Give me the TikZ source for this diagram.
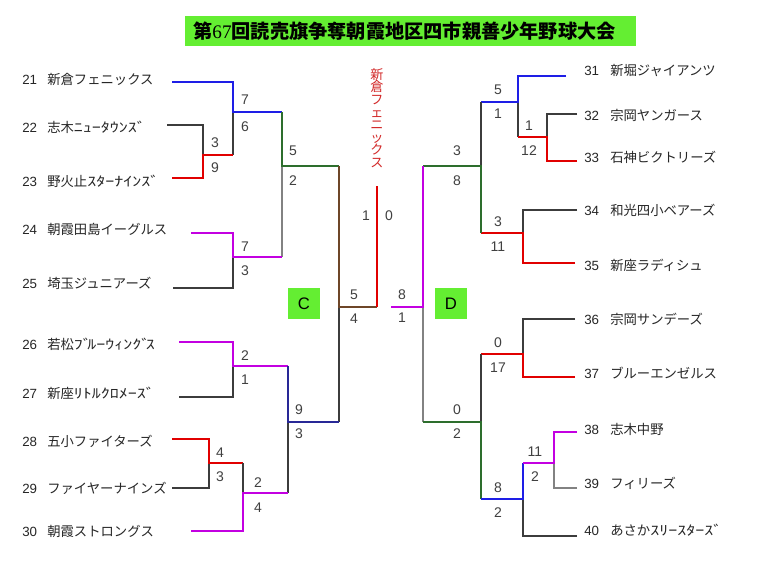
\documentclass[tikz,border=0pt]{standalone}
\usepackage{fontspec}
\usepackage{graphicx}
\setmainfont{Liberation Sans}
\newfontfamily\jp{Noto Sans CJK JP}
\newfontfamily\serifdig{Liberation Serif}
\newcommand{\hw}[1]{\scalebox{1.35}[1]{#1}}
\definecolor{cblueC}{RGB}{30,30,230}
\definecolor{cgreenC}{RGB}{45,110,45}
\definecolor{cmagC}{RGB}{195,0,225}
\definecolor{credC}{RGB}{225,0,0}
\definecolor{cbrownC}{RGB}{110,70,40}
\definecolor{cnavyC}{RGB}{40,40,150}
\definecolor{cblkC}{RGB}{60,60,60}
\definecolor{cgrayC}{RGB}{130,130,130}
\definecolor{titlegreen}{RGB}{100,238,50}
\definecolor{wintext}{RGB}{210,40,40}
\begin{document}
\begin{tikzpicture}[x=0.75pt,y=-0.75pt,
  cblue/.style={draw=cblueC,line width=1.1pt},
  cgreen/.style={draw=cgreenC,line width=1.1pt},
  cmag/.style={draw=cmagC,line width=1.1pt},
  cred/.style={draw=credC,line width=1.1pt},
  cbrown/.style={draw=cbrownC,line width=1.1pt},
  cnavy/.style={draw=cnavyC,line width=1.1pt},
  cblk/.style={draw=cblkC,line width=0.8pt},
  cgray/.style={draw=cgrayC,line width=0.8pt},
  team/.style={anchor=west,inner sep=0pt,font=\fontsize{10pt}{12pt}\selectfont,text=black!85},
  score/.style={inner sep=0pt,font=\fontsize{10.5pt}{12pt}\selectfont,text=black!75},
  gbox/.style={fill=titlegreen,inner sep=0pt,font=\fontsize{12.5pt}{14pt}\selectfont}
]
\useasboundingbox (0,0) rectangle (768,576);
\fill[white] (0,0) rectangle (768,576);

% title
\node[fill=titlegreen,anchor=west,minimum height=30*0.75pt,inner ysep=0pt,inner xsep=8*0.75pt,
  text width=435*0.75pt,align=left,
  font=\fontsize{14.4pt}{16pt}\selectfont\bfseries] (title) at (185,31)
  {\jp 第{\serifdig\mdseries 67}回読売旗争奪朝霞地区四市親善少年野球大会};

% block boxes
\node[gbox,minimum width=32*0.75pt,minimum height=31*0.75pt] (boxC) at (304,303.5) {C};
\node[gbox,minimum width=32*0.75pt,minimum height=31*0.75pt] (boxD) at (451,303.5) {D};

% winner vertical text
\node[inner sep=0pt,text=wintext,align=center,font=\fontsize{9.8pt}{9.4pt}\selectfont\jp] (winner) at (377,118)
  {新\\倉\\フ\\ェ\\ニ\\ッ\\ク\\ス};

% left teams
\newcommand{\tnum}[1]{\makebox[18.75pt][l]{#1}}
\node[team] (t21) at (22,79) {\tnum{21}{\jp 新倉フェニックス}};
\node[team] (t22) at (22,127) {\tnum{22}{\jp 志木\hw{ﾆｭｰﾀｳﾝｽﾞ}}};
\node[team] (t23) at (22,181) {\tnum{23}{\jp 野火止\hw{ｽﾀｰﾅｲﾝｽﾞ}}};
\node[team] (t24) at (22,229) {\tnum{24}{\jp 朝霞田島イーグルス}};
\node[team] (t25) at (22,283) {\tnum{25}{\jp 埼玉ジュニアーズ}};
\node[team] (t26) at (22,344) {\tnum{26}{\jp 若松\hw{ﾌﾞ\kern-2.5pt ﾙｰｳｨﾝｸﾞ\kern-2.5pt ｽ}}};
\node[team] (t27) at (22,393) {\tnum{27}{\jp 新座\hw{ﾘﾄﾙｸﾛﾒｰｽﾞ}}};
\node[team] (t28) at (22,441) {\tnum{28}{\jp 五小ファイターズ}};
\node[team] (t29) at (22,488) {\tnum{29}{\jp ファイヤーナインズ}};
\node[team] (t30) at (22,531) {\tnum{30}{\jp 朝霞ストロングス}};

% right teams
\newcommand{\rnum}[1]{\makebox[19.5pt][l]{#1}}
\node[team] (t31) at (584,71) {\rnum{31}{\jp 新堀ジャイアンツ}};
\node[team] (t32) at (584,115) {\rnum{32}{\jp 宗岡ヤンガース}};
\node[team] (t33) at (584,157) {\rnum{33}{\jp 石神ビクトリーズ}};
\node[team] (t34) at (584,210) {\rnum{34}{\jp 和光四小ベアーズ}};
\node[team] (t35) at (584,265) {\rnum{35}{\jp 新座ラディシュ}};
\node[team] (t36) at (584,319) {\rnum{36}{\jp 宗岡サンデーズ}};
\node[team] (t37) at (584,373) {\rnum{37}{\jp ブルーエンゼルス}};
\node[team] (t38) at (584,429) {\rnum{38}{\jp 志木中野}};
\node[team] (t39) at (584,483) {\rnum{39}{\jp フィリーズ}};
\node[team] (t40) at (584,530) {\rnum{40}{\jp あさか\hw{ｽﾘｰｽﾀｰｽﾞ}}};

% line ends (left)
\coordinate (e21) at (172,82);
\coordinate (e22) at (167,125);
\coordinate (e23) at (172,178);
\coordinate (e24) at (191,233);
\coordinate (e25) at (173,288);
\coordinate (e26) at (179,342);
\coordinate (e27) at (179,397);
\coordinate (e28) at (172,439);
\coordinate (e29) at (172,488);
\coordinate (e30) at (191,531);
% junctions (left)
\coordinate (m2223) at (203,155);
\coordinate (m1) at (233,112);
\coordinate (m2425) at (233,257);
\coordinate (mA) at (282,166);
\coordinate (m2627) at (233,366);
\coordinate (m2829) at (209,463);
\coordinate (m30) at (243,493);
\coordinate (mB) at (288,422);
\coordinate (mC) at (339,307);
\coordinate (win) at (377,186);

% line ends (right)
\coordinate (e31) at (566,76);
\coordinate (e32) at (577,114);
\coordinate (e33) at (577,161);
\coordinate (e34) at (577,210);
\coordinate (e35) at (575,263);
\coordinate (e36) at (575,319);
\coordinate (e37) at (575,377);
\coordinate (e38) at (577,432);
\coordinate (e39) at (577,488);
\coordinate (e40) at (577,536);
% junctions (right)
\coordinate (n3233) at (547,137);
\coordinate (n1) at (518,102);
\coordinate (n3435) at (523,233);
\coordinate (nA) at (481,166);
\coordinate (n3637) at (523,354);
\coordinate (n3839) at (554,463);
\coordinate (n40) at (523,499);
\coordinate (nB) at (481,422);
\coordinate (nC) at (423,307);
\coordinate (dend) at (391,307);

% left bracket
\draw[cblk] (e22) -| (m2223);
\draw[cblk] (m1 |- m2223) -- (m1);
\draw[cred] (e23) -| (m2223) -- (m1 |- m2223);
\draw[cblue] (e21) -| (m1) -- (mA |- m1);
\draw[cgray] (mA) -- (mA |- m2425);
\draw[cblk] (e25) -| (m2425);
\draw[cmag] (e24) -| (m2425) -- (mA |- m2425);
\draw[cgreen] (mA |- m1) -- (mA) -- (mC |- mA);
\draw[cblk] (mC) -- (mC |- mB);
\draw[cbrown] (mC |- mA) -- (mC) -- (win |- mC);
\draw[cred] (win |- mC) -- (win);
\draw[cblk] (e27) -| (m2627);
\draw[cmag] (e26) -| (m2627) -- (mB |- m2627);
\draw[cblk] (mB) -- (mB |- m30);
\draw[cnavy] (mB |- m2627) -- (mB) -- (mC |- mB);
\draw[cblk] (e29) -| (m2829);
\draw[cred] (e28) -| (m2829) -- (m30 |- m2829);
\draw[cblk] (m30 |- m2829) -- (m30);
\draw[cmag] (e30) -| (m30) -- (mB |- m30);

% right bracket
\draw[cblk] (n1) -- (n1 |- n3233);
\draw[cblk] (e32) -| (n3233);
\draw[cred] (e33) -| (n3233) -- (n1 |- n3233);
\draw[cblue] (e31) -| (n1) -- (nA |- n1);
\draw[cblk] (nA |- n1) -- (nA);
\draw[cblk] (e34) -| (n3435);
\draw[cred] (e35) -| (n3435) -- (nA |- n3435);
\draw[cgreen] (nA |- n3435) -- (nA) -- (nC |- nA);
\draw[cgray] (nC) -- (nC |- nB);
\draw[cmag] (nC |- nA) -- (nC) -- (dend);
\draw[cblk] (e36) -| (n3637);
\draw[cred] (e37) -| (n3637) -- (nB |- n3637);
\draw[cblk] (nB |- n3637) -- (nB);
\draw[cgreen] (nB |- n40) -- (nB) -- (nC |- nB);
\draw[cblk] (e40) -| (n40);
\draw[cblue] (n40 |- n3839) -- (n40) -- (nB |- n40);
\draw[cgray] (e39) -| (n3839);
\draw[cmag] (e38) -| (n3839) -- (n40 |- n3839);

% scores left
\node[score] (s01) at (245,100) {7};
\node[score] (s02) at (245,127) {6};
\node[score] (s03) at (215,143) {3};
\node[score] (s04) at (215,168) {9};
\node[score] (s05) at (293,151) {5};
\node[score] (s06) at (293,181) {2};
\node[score] (s07) at (245,247) {7};
\node[score] (s08) at (245,271) {3};
\node[score] (s09) at (354,295) {5};
\node[score] (s10) at (354,319) {4};
\node[score] (s11) at (366,216) {1};
\node[score] (s12) at (389,216) {0};
\node[score] (s13) at (245,356) {2};
\node[score] (s14) at (245,380) {1};
\node[score] (s15) at (299,410) {9};
\node[score] (s16) at (299,434) {3};
\node[score] (s17) at (220,453) {4};
\node[score] (s18) at (220,477) {3};
\node[score] (s19) at (258,483) {2};
\node[score] (s20) at (258,508) {4};
% scores right
\node[score] (s21) at (498,90) {5};
\node[score] (s22) at (498,114) {1};
\node[score] (s23) at (529,126) {1};
\node[score] (s24) at (529,151) {12};
\node[score] (s25) at (457,151) {3};
\node[score] (s26) at (457,181) {8};
\node[score] (s27) at (498,222) {3};
\node[score] (s28) at (498,247) {11};
\node[score] (s29) at (402,295) {8};
\node[score] (s30) at (402,318) {1};
\node[score] (s31) at (457,410) {0};
\node[score] (s32) at (457,434) {2};
\node[score] (s33) at (498,343) {0};
\node[score] (s34) at (498,368) {17};
\node[score] (s35) at (498,488) {8};
\node[score] (s36) at (498,513) {2};
\node[score] (s37) at (535,452) {11};
\node[score] (s38) at (535,477) {2};
\end{tikzpicture}
\end{document}
